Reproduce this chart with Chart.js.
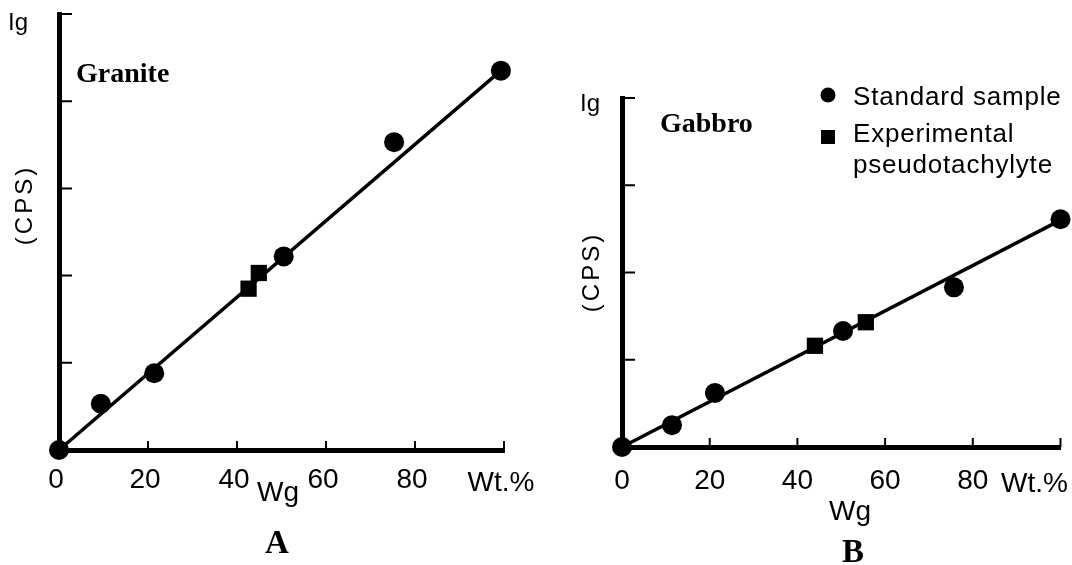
<!DOCTYPE html>
<html lang="en">
<head>
<meta charset="UTF-8">
<title>Granite / Gabbro calibration</title>
<script src="https://cdn.jsdelivr.net/npm/chart.js@4.4.0/dist/chart.umd.min.js"></script>
<style>
  body { margin: 0; background: #fff; }
  #wrap { position: relative; width: 1072px; height: 565px; }
  canvas { position: absolute; top: 0; }
  #chartA { left: 0; }
  #chartB { left: 540px; }
</style>
</head>
<body>
<div id="wrap">
  <canvas id="chartA" width="540" height="565"></canvas>
  <canvas id="chartB" width="532" height="565"></canvas>
</div>
<script>
// values: Wg (wt%) against Ig (CPS, arbitrary units)
const xTicks = [0, 20, 40, 60, 80, 100];
const unitLabel = 'Wt.%';

const graniteStdX = [0, 9.4, 21.4, 50.5, 75.3, 99.3];
const graniteStdY = [0, 0.53, 0.88, 2.22, 3.53, 4.35];
const graniteExpX = [42.6, 44.9];
const graniteExpY = [1.85, 2.03];
const graniteFitX = [0, 99.3];
const graniteFitY = [0, 4.35];

const gabbroStdX = [0, 11.4, 21.2, 50.4, 75.7, 100];
const gabbroStdY = [0, 0.25, 0.62, 1.33, 1.83, 2.61];
const gabbroExpX = [44, 55.6];
const gabbroExpY = [1.16, 1.43];
const gabbroFitX = [0, 100];
const gabbroFitY = [0, 2.6];

const SANS = '"Liberation Sans", Arial, Helvetica, sans-serif';
const SERIF = '"Liberation Serif", "Times New Roman", serif';

const pts = (xs, ys) => xs.map((x, i) => ({ x: x, y: ys[i] }));

// tick marks point into the plot, like the original
const inwardTicks = {
  id: 'inwardTicks',
  afterDraw(chart) {
    const { ctx, scales: { x, y } } = chart;
    ctx.save();
    ctx.strokeStyle = '#000';
    ctx.lineWidth = 2;
    ctx.beginPath();
    x.ticks.forEach(t => {
      if (t.value === 0) return;
      const px = x.getPixelForValue(t.value);
      ctx.moveTo(px, x.top);
      ctx.lineTo(px, x.top - 9);
    });
    y.ticks.forEach(t => {
      if (t.value === 0) return;
      const py = y.getPixelForValue(t.value);
      ctx.moveTo(y.right, py);
      ctx.lineTo(y.right + 13, py);
    });
    ctx.stroke();
    ctx.restore();
  }
};

// free text, unit label and the small legend
const panelText = {
  id: 'panelText',
  afterDraw(chart, args, opts) {
    const ctx = chart.ctx;
    const x = chart.scales.x;
    ctx.save();
    ctx.fillStyle = '#000';
    (opts.items || []).forEach(it => {
      ctx.save();
      ctx.font = it.font;
      ctx.textAlign = it.align || 'left';
      ctx.textBaseline = it.baseline || 'alphabetic';
      if ('letterSpacing' in ctx) ctx.letterSpacing = (it.spacing || 0) + 'px';
      if (it.rotate) {
        ctx.translate(it.x, it.y);
        ctx.rotate(it.rotate);
        ctx.fillText(it.text, 0, 0);
      } else {
        ctx.fillText(it.text, it.x, it.y);
      }
      ctx.restore();
    });
    if (opts.unit) {
      ctx.font = '28px ' + SANS;
      ctx.textAlign = 'center';
      ctx.textBaseline = 'alphabetic';
      ctx.fillText(unitLabel, x.getPixelForValue(100) + opts.unit.dx, opts.unit.y);
    }
    if (opts.legend) {
      const l = opts.legend;
      ctx.beginPath();
      ctx.arc(l.x, l.y1, 7.5, 0, Math.PI * 2);
      ctx.fill();
      ctx.fillRect(l.x - 7, l.y2 - 7, 14, 14);
      ctx.font = '26px ' + SANS;
      ctx.textAlign = 'left';
      if ('letterSpacing' in ctx) ctx.letterSpacing = '0.8px';
      ctx.fillText(chart.data.datasets[0].label, l.x + 25, l.y1 + 10);
      ctx.fillText('Experimental', l.x + 25, l.y2 + 5);
      ctx.fillText('pseudotachylyte', l.x + 25, l.y2 + 36);
    }
    ctx.restore();
  }
};

function makeChart(id, p) {
  return new Chart(document.getElementById(id), {
    type: 'scatter',
    data: {
      datasets: [
        {
          label: 'Standard sample',
          data: pts(p.stdX, p.stdY),
          pointStyle: 'circle',
          pointRadius: 10,
          pointBackgroundColor: '#000',
          pointBorderColor: '#000',
          pointBorderWidth: 0,
          clip: false
        },
        {
          label: 'Experimental pseudotachylyte',
          data: pts(p.expX, p.expY),
          pointStyle: 'rect',
          pointRadius: 11.5,
          pointBackgroundColor: '#000',
          pointBorderColor: '#000',
          pointBorderWidth: 0,
          clip: false
        },
        {
          label: 'fit',
          data: pts(p.fitX, p.fitY),
          showLine: true,
          pointRadius: 0,
          borderColor: '#000',
          borderWidth: 3.5,
          clip: false
        }
      ]
    },
    options: {
      responsive: false,
      animation: false,
      devicePixelRatio: 1,
      layout: { padding: p.pad },
      plugins: {
        legend: { display: false },
        tooltip: { enabled: false },
        panelText: p.text
      },
      scales: {
        x: {
          type: 'linear',
          min: 0,
          max: 100,
          afterBuildTicks: s => { s.ticks = xTicks.map(v => ({ value: v })); },
          ticks: {
            autoSkip: false,
            maxRotation: 0,
            padding: p.tickPad,
            labelOffset: p.labelOffset,
            color: '#000',
            font: { family: SANS, size: 28 },
            callback: v => (v === 100 ? '' : v)
          },
          grid: { display: false, drawTicks: false },
          border: { color: '#000', width: 5 },
          afterFit: s => { s.height = p.xH; s.paddingLeft = 0; s.paddingRight = 0; }
        },
        y: {
          type: 'linear',
          min: 0,
          max: p.yMax,
          ticks: { display: false, stepSize: 1 },
          grid: { display: false, drawTicks: false },
          border: { color: '#000', width: 5 },
          afterFit: s => { s.width = p.yW; s.paddingTop = 0; s.paddingBottom = 0; }
        }
      }
    },
    plugins: [inwardTicks, panelText]
  });
}

makeChart('chartA', {
  stdX: graniteStdX, stdY: graniteStdY,
  expX: graniteExpX, expY: graniteExpY,
  fitX: graniteFitX, fitY: graniteFitY,
  yMax: 5,
  pad: { left: 0, top: 14, right: 36, bottom: 0 },
  yW: 59, xH: 115, tickPad: 13, labelOffset: -3,
  text: {
    unit: { dx: -3, y: 491 },
    items: [
      { text: 'Ig', x: 8, y: 30, font: '24px ' + SANS },
      { text: '(CPS)', x: 25, y: 205, font: '24px ' + SANS, align: 'center', baseline: 'middle', rotate: -Math.PI / 2, spacing: 3 },
      { text: 'Granite', x: 76, y: 82, font: 'bold 28px ' + SERIF },
      { text: 'Wg', x: 278, y: 501, font: '28px ' + SANS, align: 'center' },
      { text: 'A', x: 277, y: 553, font: 'bold 33px ' + SERIF, align: 'center' }
    ]
  }
});

makeChart('chartB', {
  stdX: gabbroStdX, stdY: gabbroStdY,
  expX: gabbroExpX, expY: gabbroExpY,
  fitX: gabbroFitX, fitY: gabbroFitY,
  yMax: 4,
  pad: { left: 0, top: 98, right: 9, bottom: 0 },
  yW: 82, xH: 118, tickPad: 17, labelOffset: 0,
  text: {
    unit: { dx: -26, y: 492 },
    legend: { x: 288, y1: 95, y2: 137 },
    items: [
      { text: 'Ig', x: 40, y: 111, font: '24px ' + SANS },
      { text: '(CPS)', x: 52, y: 272, font: '24px ' + SANS, align: 'center', baseline: 'middle', rotate: -Math.PI / 2, spacing: 3 },
      { text: 'Gabbro', x: 120, y: 132, font: 'bold 28px ' + SERIF },
      { text: 'Wg', x: 310, y: 520, font: '28px ' + SANS, align: 'center' },
      { text: 'B', x: 313, y: 562, font: 'bold 33px ' + SERIF, align: 'center' }
    ]
  }
});
</script>
</body>
</html>
